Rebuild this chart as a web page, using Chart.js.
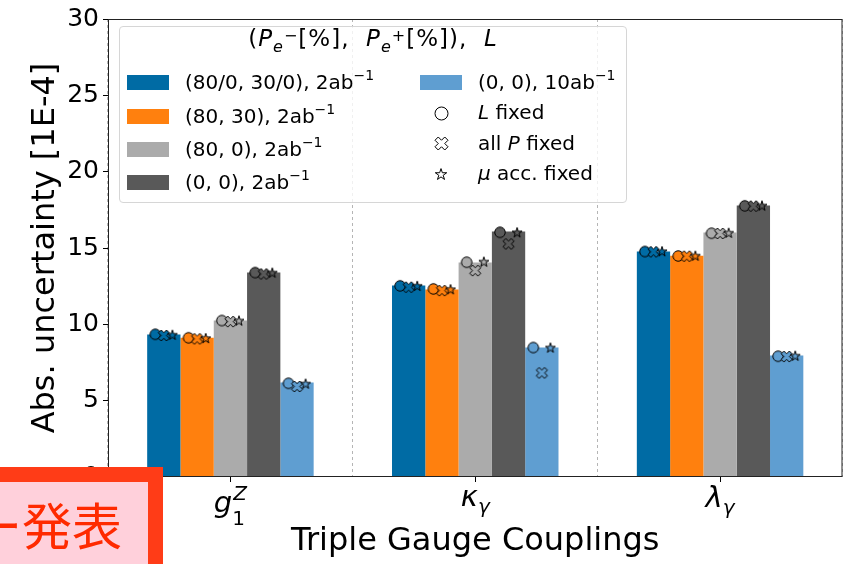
<!DOCTYPE html>
<html>
<head>
<meta charset="utf-8">
<script src="https://cdn.jsdelivr.net/npm/chart.js@4.4.0/dist/chart.umd.min.js"></script>
<style>
  body { margin: 0; background: #fff; }
  #wrap { position: relative; width: 849px; height: 564px; overflow: hidden; font-family: "DejaVu Sans", sans-serif; color: #000; }
  #myChart { display: block; }
  #legendBox { position: absolute; left: 119px; top: 26px; width: 508px; height: 177px; box-sizing: border-box;
    border: 1px solid #d6d6d6; border-radius: 4px; background: rgba(255, 255, 255, 0.8); }
  .lg { position: absolute; font-size: 20px; line-height: 20px; white-space: nowrap; }
  .ttl { font-size: 23px; line-height: 23px; letter-spacing: 1px; }
  .patch { position: absolute; width: 42px; height: 15px; }
  .sup { position: relative; top: -9px; font-size: 14px; }
  .sb { position: relative; top: 6px; font-size: 16px; font-style: italic; }
  .sp { position: relative; top: -5px; font-size: 16px; }
  .mk { position: absolute; }
  #stamp { position: absolute; left: -20px; top: 467px; width: 183px; height: 120px; box-sizing: border-box;
    border: 15px solid #ff3c17; background: #ffd0db; }
  #stampText { position: absolute; left: -28px; top: 498px; font-family: "Noto Sans CJK JP", sans-serif;
    font-size: 50px; line-height: 50px; color: #ff2a00; white-space: nowrap; }
</style>
</head>
<body>
<div id="wrap">
  <canvas id="myChart" width="849" height="564"></canvas>
  <div id="legendBox"></div>
  <div id="stamp"></div>
  <div id="stampText">ー発表</div>
</div>
<script>
// categories (x ticks are drawn as math text: base, superscript, subscript)
const categories = ["g1Z", "kappaGamma", "lambdaGamma"];
const tickBase = ["g", "κ", "λ"];
const tickSup = ["Z", "", ""];
const tickSub = ["1", "γ", "γ"];

const seriesNames = ["(80/0, 30/0), 2ab", "(80, 30), 2ab", "(80, 0), 2ab", "(0, 0), 2ab", "(0, 0), 10ab"];
const seriesColors = ["#006BA4", "#FF800E", "#ABABAB", "#595959", "#5F9ED1"];

// bar heights, one value per category
const pol8030split = [9.33, 12.54, 14.77];
const pol8030 = [9.12, 12.28, 14.50];
const pol800 = [10.25, 14.05, 16.01];
const unpol2ab = [13.39, 16.08, 17.78];
const unpol10ab = [6.19, 8.48, 7.96];
const barValues = [pol8030split, pol8030, pol800, unpol2ab, unpol10ab];

// marker values, one row per series
const lFixed = [
  [9.35, 12.52, 14.77],
  [9.12, 12.32, 14.48],
  [10.25, 14.07, 15.97],
  [13.39, 16.03, 17.76],
  [6.14, 8.48, 7.91],
];
const allPFixed = [
  [9.27, 12.43, 14.75],
  [9.05, 12.21, 14.46],
  [10.18, 13.52, 15.95],
  [13.30, 15.27, 17.74],
  [5.93, 6.82, 7.89],
];
const muFixed = [
  [9.32, 12.52, 14.79],
  [9.10, 12.30, 14.50],
  [10.25, 14.11, 16.00],
  [13.39, 16.03, 17.78],
  [6.12, 8.48, 7.95],
];

const yMin = 0;
const yMax = 30;
const yStep = 5;

const catPct = 0.68;
const barSlot = catPct / seriesNames.length;
const markerShift = [-0.035, 0, 0.035];
const FONT = '"DejaVu Sans", sans-serif';

function markerCanvas(shape, fill, size) {
  const c = document.createElement("canvas");
  c.width = c.height = size + 4;
  const ctx = c.getContext("2d");
  const m = c.width / 2;
  const r = size / 2;
  ctx.beginPath();
  if (shape === "circle") {
    ctx.arc(m, m, r, 0, Math.PI * 2);
  } else if (shape === "x") {
    const pts = [[-1, -3], [1, -3], [1, -1], [3, -1], [3, 1], [1, 1], [1, 3], [-1, 3], [-1, 1], [-3, 1], [-3, -1], [-1, -1]];
    const sc = r / (4 / Math.SQRT2);
    const a = Math.PI / 4;
    pts.forEach(([px, py], k) => {
      const x = m + (px * Math.cos(a) - py * Math.sin(a)) * sc;
      const y = m + (px * Math.sin(a) + py * Math.cos(a)) * sc;
      k ? ctx.lineTo(x, y) : ctx.moveTo(x, y);
    });
  } else {
    for (let k = 0; k < 10; k++) {
      const rr = k % 2 ? r * 0.382 : r;
      const ang = -Math.PI / 2 + (k * Math.PI) / 5;
      const x = m + rr * Math.cos(ang);
      const y = m + rr * Math.sin(ang) + r * 0.1;
      k ? ctx.lineTo(x, y) : ctx.moveTo(x, y);
    }
  }
  ctx.closePath();
  ctx.fillStyle = fill;
  ctx.fill();
  ctx.lineWidth = 1;
  ctx.strokeStyle = "#000";
  ctx.stroke();
  return c;
}

const barSets = seriesNames.map((name, i) => ({
  type: "bar",
  label: name,
  data: barValues[i],
  backgroundColor: seriesColors[i],
  borderWidth: 0,
  categoryPercentage: catPct,
  barPercentage: 1,
  order: 10,
}));

const markerKinds = [
  { vals: lFixed, shape: "circle", size: 10.5, order: 3 },
  { vals: allPFixed, shape: "x", size: 11, order: 2 },
  { vals: muFixed, shape: "star", size: 10.5, order: 1 },
];

// markers: point-only line datasets on the category axis, x given in category units
const markerSets = [];
markerKinds.forEach((kind, k) => {
  seriesNames.forEach((name, i) => {
    markerSets.push({
      type: "line",
      label: name + " marker " + k,
      parsing: false,
      data: categories.map((c, j) => ({ x: j + (i - 2) * barSlot + markerShift[k], y: kind.vals[i][j] })),
      showLine: false,
      pointStyle: markerCanvas(kind.shape, seriesColors[i], kind.size),
      pointRadius: kind.size / 2,
      order: kind.order,
    });
  });
});

const mathTicks = {
  id: "mathTicks",
  afterDraw(chart) {
    const ctx = chart.ctx;
    const xs = chart.scales.x;
    const area = chart.chartArea;
    ctx.save();
    // axes frame
    ctx.strokeStyle = "#222";
    ctx.lineWidth = 1;
    ctx.strokeRect(area.left + 0.5, area.top + 0.5, area.right - area.left - 1, area.bottom - area.top - 1);
    ctx.fillStyle = "#000";
    ctx.textBaseline = "alphabetic";
    const baseY = [512, 506, 507];
    const subY = [525, 513, 514];
    const supY = [500, 0, 0];
    categories.forEach((c, i) => {
      const cx = xs.getPixelForTick(i);
      ctx.font = "oblique 29px " + FONT;
      const wb = ctx.measureText(tickBase[i]).width;
      const subFont = (tickSub[i] === "1" ? "" : "oblique ") + "20px " + FONT;
      ctx.font = subFont;
      const wsub = ctx.measureText(tickSub[i]).width;
      ctx.font = "oblique 20px " + FONT;
      const wsup = tickSup[i] ? ctx.measureText(tickSup[i]).width + 1 : 0;
      const total = wb + Math.max(wsub, wsup);
      const x0 = cx - total / 2;
      ctx.font = "oblique 29px " + FONT;
      ctx.fillText(tickBase[i], x0, baseY[i]);
      if (tickSup[i]) {
        ctx.font = "oblique 20px " + FONT;
        ctx.fillText(tickSup[i], x0 + wb + 1, supY[i]);
      }
      ctx.font = subFont;
      ctx.fillText(tickSub[i], x0 + wb, subY[i]);
    });
    ctx.restore();
  },
};

const config = {
  type: "bar",
  data: {
    labels: categories,
    datasets: [...barSets, ...markerSets],
  },
  options: {
    responsive: false,
    animation: false,
    events: [],
    layout: { padding: { top: 16, right: 3, left: 0, bottom: 0 } },
    plugins: {
      legend: { display: false },
      tooltip: { enabled: false },
    },
    scales: {
      x: {
        type: "category",
        offset: true,
        grid: { offset: false, drawOnChartArea: false, tickLength: 5, color: "#000" },
        border: { display: false },
        ticks: { display: false },
        title: {
          display: true,
          text: "Triple Gauge Couplings",
          color: "#000",
          font: { family: FONT, size: 32 },
          padding: { top: 0, bottom: 3 },
        },
        afterFit: (scale) => { scale.height = 87; },
      },
      x2: {
        type: "category",
        position: "bottom",
        offset: true,
        grid: { offset: true, drawOnChartArea: true, drawTicks: false, color: "#b5b5b5", lineWidth: 1 },
        border: { display: false, dash: [3, 3] },
        ticks: { display: false },
        afterFit: (scale) => { scale.height = 0; },
      },
      y: {
        min: yMin,
        max: yMax,
        grid: { drawOnChartArea: false, tickLength: 5, color: "#000" },
        border: { display: false },
        ticks: {
          stepSize: yStep,
          padding: 4,
          color: "#000",
          font: { family: FONT, size: 25 },
        },
        title: {
          display: true,
          text: "Abs. uncertainty [1E-4]",
          color: "#000",
          font: { family: FONT, size: 32 },
          padding: { top: 26, bottom: 0 },
        },
        afterFit: (scale) => { scale.width = 108; },
      },
    },
  },
  plugins: [mathTicks],
};

var myChart = new Chart(document.getElementById("myChart"), config);

// legend drawn as html on top of the plot
const wrap = document.getElementById("wrap");
function addEl(cls, left, top, html, style) {
  const d = document.createElement("div");
  d.className = cls;
  d.style.left = left + "px";
  d.style.top = top + "px";
  if (style) Object.assign(d.style, style);
  d.innerHTML = html;
  wrap.appendChild(d);
  return d;
}

addEl("lg ttl", 119, 27,
  '(<i>P</i><span class="sb">e</span><span class="sp">−</span>[%],&nbsp; <i>P</i><span class="sb">e</span><span class="sp">+</span>[%]),&nbsp; <i>L</i>',
  { width: "508px", textAlign: "center" });

const col1Tops = [72, 106, 139, 172];
for (let i = 0; i < 4; i++) {
  addEl("patch", 127, col1Tops[i] + 3, "", { background: seriesColors[i] });
  addEl("lg", 185, col1Tops[i], seriesNames[i] + '<span class="sup">−1</span>');
}
addEl("patch", 420, 75, "", { background: seriesColors[4] });
addEl("lg", 478, 72, seriesNames[4] + '<span class="sup">−1</span>');

const markerLabels = ["<i>L</i> fixed", "all <i>P</i> fixed", "<i>μ</i> acc. fixed"];
const markerRowY = [113, 143.5, 173.5];
const legendSizes = [13, 13, 12];
markerKinds.forEach((kind, k) => {
  const cv = markerCanvas(kind.shape, "#fff", legendSizes[k]);
  cv.className = "mk";
  cv.style.left = (441 - cv.width / 2) + "px";
  cv.style.top = (markerRowY[k] - cv.height / 2) + "px";
  wrap.appendChild(cv);
  addEl("lg", 478, markerRowY[k] - 11, markerLabels[k]);
});

// keep the stamp above the legend
wrap.appendChild(document.getElementById("stamp"));
wrap.appendChild(document.getElementById("stampText"));
</script>
</body>
</html>
